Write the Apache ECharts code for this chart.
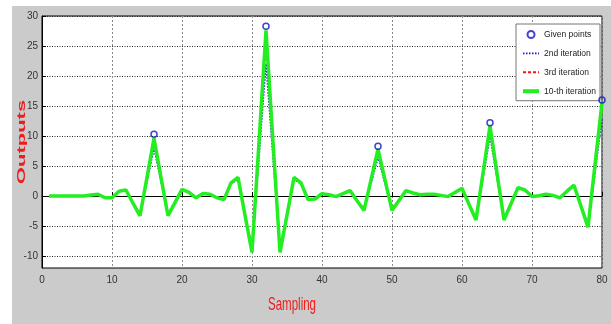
<!DOCTYPE html>
<html><head><meta charset="utf-8">
<script src="https://cdn.jsdelivr.net/npm/echarts@6/dist/echarts.min.js"></script>
<style>html,body{margin:0;padding:0;background:#fff}#c{width:611px;height:324px}</style>
</head><body><div id="c"></div>
<script>
// ---- data ----
const givenX = [16, 32, 48, 64, 80];
const givenY = [10.3, 28.3, 8.3, 12.2, 16.0];

// values at sampling points 1..80
const iter10 = [
  0, 0, 0, 0, 0, 0, 0.15, 0.3, -0.3, -0.3,
  0.8, 1.0, -1.2, -3.3, 3.1, 9.6, 3.1, -3.3, -1.1, 1.1,
  0.6, -0.3, 0.4, 0.3, -0.3, -0.6, 2.2, 3.1, -3.2, -9.4,
  9.0, 27.6, 9.0, -9.4, -3.2, 3.1, 2.2, -0.6, -0.5, 0.4,
  0.2, -0.1, 0.4, 0.9, -0.8, -2.4, 2.7, 7.8, 2.7, -2.4,
  -0.75, 0.9, 0.5, 0.2, 0.3, 0.3, 0.1, -0.1, 0.6, 1.3,
  -1.4, -4.0, 3.8, 11.7, 3.8, -4.0, -1.3, 1.4, 1.0, -0.1,
  0.05, 0.3, 0.1, -0.3, 0.8, 1.8, -1.7, -5.2, 5.2, 15.6
];
const iter3 = [
  0, 0, 0, 0, 0, 0, 0.15, 0.3, -0.3, -0.3,
  0.8, 1.0, -1.2, -3.2, 3.0, 9.3, 3.0, -3.2, -1.1, 1.1,
  0.6, -0.3, 0.4, 0.3, -0.3, -0.6, 2.2, 3.0, -3.1, -9.2,
  8.6, 26.5, 8.6, -9.2, -3.1, 3.0, 2.2, -0.6, -0.5, 0.4,
  0.2, -0.1, 0.4, 0.9, -0.8, -2.3, 2.6, 7.6, 2.6, -2.3,
  -0.75, 0.9, 0.5, 0.2, 0.3, 0.3, 0.1, -0.1, 0.6, 1.3,
  -1.4, -3.9, 3.6, 11.3, 3.6, -3.9, -1.3, 1.4, 1.0, -0.1,
  0.05, 0.3, 0.1, -0.3, 0.8, 1.8, -1.7, -5.1, 5.0, 15.0
];
const iter2 = [
  0, 0, 0, 0, 0, 0, 0.15, 0.3, -0.3, -0.3,
  0.8, 1.0, -1.1, -2.9, 2.4, 8.0, 2.4, -2.9, -1.0, 1.1,
  0.6, -0.3, 0.4, 0.3, -0.3, -0.6, 2.0, 2.8, -2.9, -8.6,
  6.5, 22.0, 6.5, -8.6, -2.9, 2.8, 2.0, -0.6, -0.5, 0.4,
  0.2, -0.1, 0.4, 0.8, -0.7, -2.1, 2.0, 6.5, 2.0, -2.1,
  -0.7, 0.8, 0.5, 0.2, 0.3, 0.3, 0.1, -0.1, 0.6, 1.2,
  -1.3, -3.6, 2.9, 10.0, 2.9, -3.6, -1.2, 1.3, 0.9, -0.1,
  0.05, 0.3, 0.1, -0.3, 0.7, 1.6, -1.5, -4.7, 3.8, 13.0
];
const yTicks = [-10, -5, 0, 5, 10, 15, 20, 25, 30];
const seriesNames = ['Given points', '2nd iteration', '3rd iteration', '10-th iteration'];
const xTitle = 'Sampling';
const yTitle = 'Outputs';

// ---- chart ----
const labelFont = "'Liberation Sans', Arial, sans-serif";
const toPairs = arr => arr.map((v, i) => [i + 1, v]);
const hiddenSymbol = {color: 'rgba(0,0,0,0)', borderWidth: 0, opacity: 0};

const chart = echarts.init(document.getElementById('c'), null, {renderer: 'canvas'});
chart.setOption({
  animation: false,
  backgroundColor: '#ffffff',
  graphic: [
    {type: 'rect', z: -100, shape: {x: 12, y: 6, width: 599, height: 318}, style: {fill: '#cbcbcb'}},
    {type: 'text', z: 100, x: 22, y: 142, rotation: Math.PI / 2, scaleX: 2.0, scaleY: 1,
     style: {text: yTitle, fill: '#ee1c1c', font: "bold 11px 'Liberation Sans', Arial, sans-serif",
             align: 'center', verticalAlign: 'middle'}},
    {type: 'text', z: 100, x: 292, y: 305, scaleX: 0.64, scaleY: 1,
     style: {text: xTitle, fill: '#ee1c1c', font: "18px 'Liberation Sans', Arial, sans-serif",
             align: 'center', verticalAlign: 'middle'}}
  ],
  grid: {left: 42, top: 16, right: 9, bottom: 56, show: true, backgroundColor: '#ffffff',
         borderColor: '#000', borderWidth: 1},
  xAxis: {
    type: 'value', min: 0, max: 80, interval: 10,
    axisLine: {show: true, lineStyle: {color: '#000'}},
    axisTick: {show: true, inside: true, length: 4, lineStyle: {color: '#000'}},
    axisLabel: {color: '#333', fontSize: 10, fontFamily: labelFont, margin: 7},
    splitLine: {show: true, lineStyle: {color: '#888', type: [2, 2], width: 1}}
  },
  yAxis: {
    type: 'value', min: -12, max: 30,
    axisLine: {show: true, lineStyle: {color: '#000'}},
    axisTick: {show: true, inside: true, length: 4, customValues: yTicks, lineStyle: {color: '#000'}},
    axisLabel: {color: '#333', fontSize: 10, fontFamily: labelFont, margin: 4, customValues: yTicks},
    splitLine: {show: true, lineStyle: {color: '#222', type: [1, 1.5], width: 1}}
  },
  legend: {
    orient: 'vertical', right: 11, top: 24,
    itemWidth: 16, itemHeight: 7, itemGap: 9.9,
    padding: [6, 4, 5, 5],
    backgroundColor: '#fff', borderColor: '#777', borderWidth: 1,
    textStyle: {fontFamily: labelFont, fontSize: 8.5, color: '#222'},
    data: [
      {name: seriesNames[0], icon: 'circle'},
      {name: seriesNames[1], itemStyle: hiddenSymbol, lineStyle: {width: 1.6}},
      {name: seriesNames[2], itemStyle: hiddenSymbol, lineStyle: {width: 2}},
      {name: seriesNames[3], itemStyle: hiddenSymbol, lineStyle: {width: 4}}
    ]
  },
  series: [
    {name: seriesNames[1], type: 'line', data: toPairs(iter2), symbol: 'none', z: 3,
     lineStyle: {color: '#1a1ad0', width: 1.6, type: [1.5, 1.5]}, itemStyle: {color: '#1a1ad0'}},
    {name: seriesNames[2], type: 'line', data: toPairs(iter3), symbol: 'none', z: 4,
     lineStyle: {color: '#ff1010', width: 2, type: [3, 2]}, itemStyle: {color: '#ff1010'}},
    {name: seriesNames[3], type: 'line', data: toPairs(iter10), symbol: 'none', z: 5,
     lineStyle: {color: '#22ee22', width: 3.5, type: 'solid'}, itemStyle: {color: '#22ee22'}},
    {name: seriesNames[0], type: 'scatter', z: 6,
     data: givenX.map((x, i) => [x, givenY[i]]),
     symbol: 'circle', symbolSize: 6,
     itemStyle: {color: 'rgba(255,255,255,0)', borderColor: '#1414c0', borderWidth: 1.5}}
  ]
});
</script></body></html>
